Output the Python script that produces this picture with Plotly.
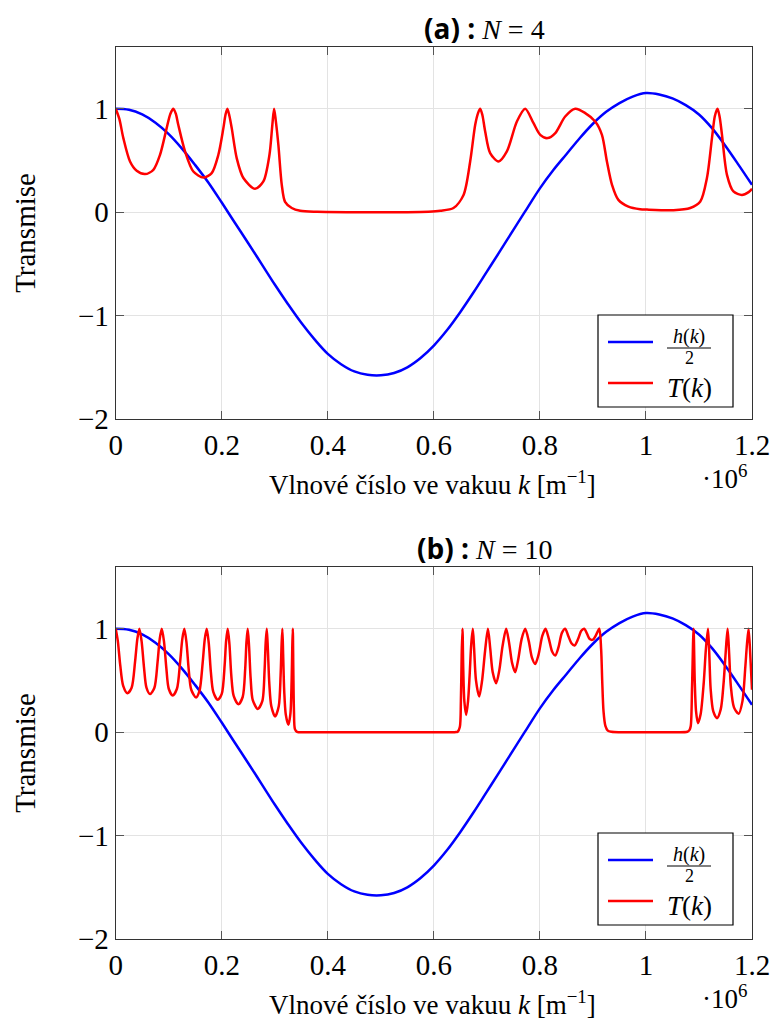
import plotly.graph_objects as go

# ---------------- data (k in units of 1e6 m^-1) ----------------
k_h = [0, 0.025, 0.05, 0.075, 0.1, 0.125, 0.15, 0.175, 0.2, 0.225, 0.25, 0.275, 0.3, 0.325, 0.35,
       0.375, 0.4, 0.425, 0.45, 0.475, 0.5, 0.525, 0.55, 0.575, 0.6, 0.625, 0.65, 0.675, 0.7,
       0.725, 0.75, 0.775, 0.8, 0.825, 0.85, 0.875, 0.9, 0.925, 0.95, 0.975, 1.0, 1.025, 1.05,
       1.075, 1.1, 1.125, 1.15, 1.175, 1.2]
h_half = [1.0, 0.99, 0.945, 0.865, 0.755, 0.615, 0.455, 0.285, 0.093, -0.105, -0.30, -0.50, -0.70,
          -0.89, -1.07, -1.23, -1.37, -1.47, -1.54, -1.572, -1.577, -1.555, -1.50, -1.41, -1.29,
          -1.14, -0.965, -0.775, -0.575, -0.375, -0.171, 0.03, 0.23, 0.405, 0.56, 0.715, 0.855,
          0.97, 1.055, 1.118, 1.152, 1.138, 1.10, 1.035, 0.945, 0.81, 0.64, 0.455, 0.264]

k_T4 = [0, 0.007, 0.0144, 0.027, 0.0396, 0.0553, 0.071, 0.0836, 0.096, 0.103, 0.1087, 0.1135, 0.118,
        0.1308, 0.1465, 0.1653, 0.181, 0.1936, 0.203, 0.207, 0.2106, 0.2145, 0.2189, 0.2283, 0.2408,
        0.2628, 0.2785, 0.29, 0.2955, 0.2987, 0.302, 0.3068, 0.3132, 0.3194, 0.332, 0.348, 0.38, 0.45,
        0.55, 0.59, 0.612, 0.637, 0.656, 0.6685, 0.678, 0.6835, 0.6874, 0.6915, 0.6968, 0.7062, 0.722,
        0.7377, 0.7566, 0.7723, 0.788, 0.8006, 0.8144, 0.829, 0.8477, 0.8666, 0.8855, 0.9043, 0.917,
        0.9264, 0.936, 0.948, 0.967, 0.989, 1.002, 1.052, 1.0836, 1.1025, 1.115, 1.1245, 1.13, 1.135,
        1.139, 1.1434, 1.1528, 1.165, 1.181, 1.1936, 1.2]
T4 = [1.0, 0.9, 0.716, 0.49, 0.40, 0.368, 0.41, 0.555, 0.81, 0.95, 1.0, 0.95, 0.845,
      0.587, 0.393, 0.335, 0.378, 0.555, 0.81, 0.94, 1.0, 0.93, 0.81, 0.52, 0.33,
      0.226, 0.297, 0.555, 0.85, 1.0, 0.88, 0.65, 0.264, 0.10, 0.04, 0.013, 0.004, 0.0,
      0.0, 0.004, 0.013, 0.04, 0.167, 0.49, 0.845, 0.96, 1.0, 0.94, 0.78, 0.571, 0.49,
      0.587, 0.877, 1.0, 0.86, 0.748, 0.716, 0.765, 0.925, 1.0, 0.958, 0.877, 0.748,
      0.49, 0.264, 0.119, 0.054, 0.029, 0.025, 0.019, 0.04, 0.103, 0.33, 0.716, 0.93, 1.0,
      0.92, 0.748, 0.361, 0.2, 0.167, 0.194, 0.226]

k_T10 = [0, 0.004, 0.0085, 0.014, 0.0219,
         0.030, 0.0365, 0.0408, 0.0446, 0.0488, 0.0533, 0.058, 0.0647,
         0.073, 0.079, 0.083, 0.0868, 0.091, 0.0955, 0.100, 0.1075,
         0.1155, 0.1215, 0.1256, 0.1294, 0.1334, 0.1378, 0.1425, 0.1515,
         0.158, 0.164, 0.168, 0.1717, 0.1755, 0.1795, 0.184, 0.1925,
         0.200, 0.2055, 0.2082, 0.2113, 0.2145, 0.218, 0.2225, 0.2313,
         0.2395, 0.2443, 0.2466, 0.249, 0.2515, 0.2545, 0.2585, 0.2679,
         0.2765, 0.2808, 0.2828, 0.2849, 0.287, 0.2897, 0.2935, 0.3006,
         0.3075, 0.311, 0.3128, 0.3143, 0.3158, 0.3178, 0.3208, 0.3257,
         0.3295, 0.3318, 0.333, 0.334, 0.335, 0.3362, 0.338, 0.342, 0.36,
         0.45, 0.55, 0.64,
         0.645, 0.649, 0.651, 0.6525, 0.654, 0.6555, 0.6575, 0.661, 0.6645, 0.6675, 0.6705, 0.6735,
         0.676, 0.6795, 0.6855, 0.691, 0.6965, 0.702, 0.7065, 0.711, 0.7175, 0.7235, 0.7295, 0.7364,
         0.742, 0.7475, 0.7534, 0.759, 0.7655, 0.7723, 0.779, 0.785, 0.7911, 0.7975, 0.8045, 0.8106,
         0.817, 0.823, 0.8289, 0.835, 0.8415, 0.8477, 0.8535, 0.8595, 0.8653, 0.872, 0.878, 0.8836,
         0.889, 0.894, 0.900, 0.906, 0.912, 0.9155, 0.9175, 0.920, 0.9235, 0.928, 0.935, 0.95,
         1.0, 1.05, 1.078,
         1.082, 1.0845, 1.087, 1.0898, 1.092, 1.0945, 1.098, 1.103, 1.109, 1.113, 1.117, 1.1195,
         1.122, 1.127, 1.134, 1.141, 1.1465, 1.1505, 1.154, 1.157, 1.160, 1.166, 1.1748, 1.182,
         1.1874, 1.1905, 1.1936, 1.197, 1.2]
T10 = [1.0, 0.88, 0.65, 0.45, 0.377,
       0.43, 0.68, 0.90, 1.0, 0.88, 0.63, 0.43, 0.368,
       0.43, 0.68, 0.90, 1.0, 0.88, 0.62, 0.42, 0.355,
       0.42, 0.68, 0.90, 1.0, 0.87, 0.60, 0.41, 0.336,
       0.40, 0.67, 0.90, 1.0, 0.86, 0.58, 0.39, 0.313,
       0.37, 0.65, 0.88, 1.0, 0.85, 0.55, 0.35, 0.27,
       0.34, 0.62, 0.87, 1.0, 0.83, 0.52, 0.31, 0.225,
       0.30, 0.60, 0.86, 1.0, 0.80, 0.47, 0.25, 0.151,
       0.25, 0.55, 0.84, 1.0, 0.75, 0.40, 0.17, 0.071,
       0.18, 0.50, 0.82, 1.0, 0.60, 0.20, 0.03, 0.003, 0.0,
       0.0, 0.0, 0.0,
       0.005, 0.05, 0.30, 0.75, 1.0, 0.60, 0.30, 0.167, 0.30, 0.55, 0.85, 1.0,
       0.80, 0.50, 0.345, 0.50, 0.78, 1.0, 0.80, 0.58, 0.474, 0.60, 0.83, 1.0,
       0.86, 0.67, 0.58, 0.70, 0.90, 1.0, 0.88, 0.72, 0.658, 0.75, 0.93, 1.0,
       0.90, 0.78, 0.742, 0.82, 0.96, 1.0, 0.93, 0.86, 0.838, 0.90, 0.98, 1.0,
       0.95, 0.90, 0.894, 0.94, 1.0, 0.80, 0.50, 0.20, 0.06, 0.015, 0.004, 0.0,
       0.0, 0.0, 0.004,
       0.02, 0.06, 0.45, 1.0, 0.50, 0.20, 0.087, 0.17, 0.48, 0.80, 1.0, 0.75,
       0.42, 0.20, 0.135, 0.22, 0.48, 0.78, 1.0, 0.75, 0.45, 0.24, 0.177, 0.30,
       0.63, 0.85, 1.0, 0.72, 0.41]

x_ticks = [0, 0.2, 0.4, 0.6, 0.8, 1.0, 1.2]
x_ticktext = ["0", "0.2", "0.4", "0.6", "0.8", "1", "1.2"]
y_ticks = [-2, -1, 0, 1]
panels = [("(a)", "4"), ("(b)", "10")]

# ---------------- layout geometry (pixels) ----------------
W, H = 773, 1021
PX0, PX1 = 115.7, 752.0
PANEL_Y = [(46.7, 419.0), (566.7, 939.0)]
SERIF = "Liberation Serif"


def px(x):
    return x / W


def py(y):
    return 1 - y / H


fig = go.Figure()
series = [(T4, k_T4), (T10, k_T10)]
for i, (T, kT) in enumerate(series):
    xa = "x" if i == 0 else "x2"
    ya = "y" if i == 0 else "y2"
    fig.add_trace(go.Scatter(x=k_h, y=h_half, mode="lines", name="h(k)/2",
                             line=dict(color="#0000ff", width=2.5, shape="spline", smoothing=1.0),
                             xaxis=xa, yaxis=ya, showlegend=False, hoverinfo="skip"))
    fig.add_trace(go.Scatter(x=kT, y=T, mode="lines", name="T(k)",
                             line=dict(color="#ff0000", width=2.5, shape="spline", smoothing=0.8),
                             xaxis=xa, yaxis=ya, showlegend=False, hoverinfo="skip"))

axis_common = dict(showline=True, linecolor="#333333", linewidth=1.2, mirror="ticks",
                   ticks="inside", ticklen=8, tickcolor="#555555", tickwidth=1,
                   showgrid=True, gridcolor="#e3e3e3", gridwidth=1, zeroline=False,
                   automargin=False,
                   tickfont=dict(family=SERIF, size=29, color="#000000"))

layout = dict(width=W, height=H, margin=dict(l=0, r=0, t=0, b=0, autoexpand=False),
              paper_bgcolor="white", plot_bgcolor="white", showlegend=False)

annotations = []
shapes = []
for i, (lab, n) in enumerate(panels):
    top, bot = PANEL_Y[i]
    sfx = "" if i == 0 else "2"
    layout["xaxis" + sfx] = dict(axis_common, domain=[px(PX0), px(PX1)], range=[0, 1.2],
                                 tickvals=x_ticks, ticktext=x_ticktext,
                                 anchor="y" + sfx)
    layout["yaxis" + sfx] = dict(axis_common, domain=[py(bot), py(top)], range=[-2, 1.6],
                                 tickvals=y_ticks, anchor="x" + sfx)
    # title
    annotations.append(dict(xref="paper", yref="paper", x=px(484), y=py(top - 19),
                            xanchor="center", yanchor="middle", showarrow=False,
                            text='<span style="font-family:Open Sans"><b>' + lab + ' :</b></span> <i>N</i> = ' + n,
                            font=dict(family=SERIF, size=28, color="#000000")))
    # y label
    annotations.append(dict(xref="paper", yref="paper", x=px(25), y=py((top + bot) / 2),
                            xanchor="center", yanchor="middle", showarrow=False, textangle=-90,
                            text="Transmise", font=dict(family=SERIF, size=29, color="#000000")))
    # x label
    annotations.append(dict(xref="paper", yref="paper", x=px(432), y=py(bot + 64),
                            xanchor="center", yanchor="middle", showarrow=False,
                            text="Vlnové číslo ve vakuu <i>k</i> [m<sup>−1</sup>]",
                            font=dict(family=SERIF, size=27, color="#000000")))
    annotations.append(dict(xref="paper", yref="paper", x=px(724), y=py(bot + 58),
                            xanchor="center", yanchor="middle", showarrow=False,
                            text="·10<sup>6</sup>", font=dict(family=SERIF, size=27, color="#000000")))
    # legend box
    lx0, lx1 = 598, 733
    ly0 = 315 if i == 0 else 833
    ly1 = ly0 + 92
    shapes.append(dict(type="rect", xref="paper", yref="paper", x0=px(lx0), x1=px(lx1),
                       y0=py(ly1), y1=py(ly0), line=dict(color="#000000", width=1.2),
                       fillcolor="white", layer="above"))
    yb = ly0 + 27
    yr = ly0 + 68
    shapes.append(dict(type="line", xref="paper", yref="paper", x0=px(608), x1=px(653),
                       y0=py(yb), y1=py(yb), line=dict(color="#0000ff", width=2.5), layer="above"))
    shapes.append(dict(type="line", xref="paper", yref="paper", x0=px(608), x1=px(653),
                       y0=py(yr), y1=py(yr), line=dict(color="#ff0000", width=2.5), layer="above"))
    # fraction h(k)/2
    annotations.append(dict(xref="paper", yref="paper", x=px(689), y=py(ly0 + 21),
                            xanchor="center", yanchor="middle", showarrow=False,
                            text="<i>h</i>(<i>k</i>)", font=dict(family=SERIF, size=20, color="#000000")))
    shapes.append(dict(type="line", xref="paper", yref="paper", x0=px(667), x1=px(711),
                       y0=py(ly0 + 33), y1=py(ly0 + 33), line=dict(color="#000000", width=1),
                       layer="above"))
    annotations.append(dict(xref="paper", yref="paper", x=px(689), y=py(ly0 + 43),
                            xanchor="center", yanchor="middle", showarrow=False,
                            text="2", font=dict(family=SERIF, size=18, color="#000000")))
    annotations.append(dict(xref="paper", yref="paper", x=px(689), y=py(yr + 5),
                            xanchor="center", yanchor="middle", showarrow=False,
                            text="<i>T</i>(<i>k</i>)", font=dict(family=SERIF, size=27, color="#000000")))

layout["annotations"] = annotations
layout["shapes"] = shapes
fig.update_layout(**layout)
fig.write_html("out.html")
